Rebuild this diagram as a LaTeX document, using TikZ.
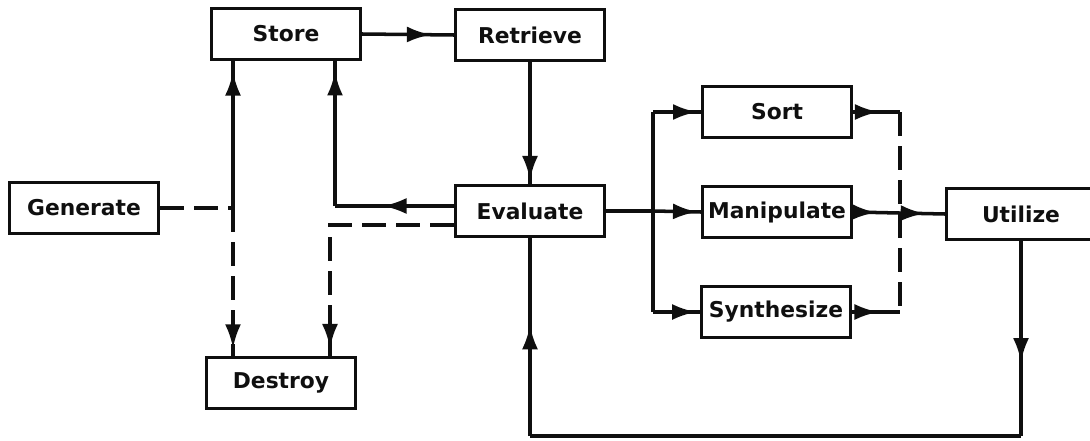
\documentclass[tikz,border=0pt]{standalone}
\usepackage{fontspec}
\setmainfont{DejaVu Sans}
\usetikzlibrary{arrows.meta, decorations.markings}
\definecolor{ink}{RGB}{15,15,15}

\begin{document}
\begin{tikzpicture}[x=0.025cm, y=-0.025cm, ink, line width=2.5pt,
    blk/.style={draw, minimum width=3.72cm, minimum height=1.28cm, inner sep=0pt,
        font=\bfseries\fontsize{15.5}{18}\selectfont},
    arrat/.style={postaction={decorate, decoration={markings,
        mark=at position #1 with {\arrow{Latex[length=6mm,width=4mm]}}}}},
    dsh/.style={dash pattern=on 6mm off 2.5mm}]
    \useasboundingbox (0,0) rectangle (1090,440);
    \node[blk] (store) at (286,34) {Store};
    \node[blk] (retrieve) at (530,35) {Retrieve};
    \node[blk] (gen) at (84,208) {Generate};
    \node[blk] (eval) at (530,211) {Evaluate};
    \node[blk] (destroy) at (281,383) {Destroy};
    \node[blk] (sort) at (777,112) {Sort};
    \node[blk] (manip) at (777,212) {Manipulate};
    \node[blk] (synth) at (776,312) {Synthesize};
    \node[blk] (util) at (1021,214) {Utilize};
    \coordinate (jg) at (233,208);
    \coordinate (je) at (335,206);
    \coordinate (jd) at (330,225);
    \coordinate (js) at (653,211);
    \coordinate (jr) at (900,212);
    \coordinate (jb) at (528,436);
    \draw[arrat=0.75] (store.east) -- (retrieve.west);
    \draw[arrat=0.97] (retrieve.south) -- (eval.north);
    \draw[dsh] (gen.east) -- (jg);
    \draw[arrat=0.93] (jg) -- (jg |- store.south);
    \draw[dsh, arrat=0.95] (jg) -- (jg |- destroy.north);
    \draw[arrat=0.6] (eval.west |- je) -- (je);
    \draw[arrat=0.93] (je) -- (je |- store.south);
    \draw[dsh, arrat=0.97] (eval.west |- jd) -- (jd) -- (jd |- destroy.north);
    \draw (eval.east) -- (js);
    \draw (js |- sort.west) -- (js |- synth.west);
    \draw[arrat=0.92] (js |- sort.west) -- (sort.west);
    \draw[arrat=0.92] (js) -- (manip.west);
    \draw[arrat=0.92] (js |- synth.west) -- (synth.west);
    \draw[arrat=0.55] (sort.east) -- (sort.east -| jr);
    \draw[arrat=0.55] (synth.east) -- (synth.east -| jr);
    \draw[dsh] (sort.east -| jr) -- (synth.east -| jr);
    \draw[arrat=0.25, arrat=0.78] (manip.east) -- (util.west);
    \draw[arrat=0.62] (util.south) -- (util.south |- jb);
    \draw (util.south |- jb) -- (eval.south |- jb);
    \draw[arrat=0.56] (eval.south |- jb) -- (eval.south);
\end{tikzpicture}
\end{document}
